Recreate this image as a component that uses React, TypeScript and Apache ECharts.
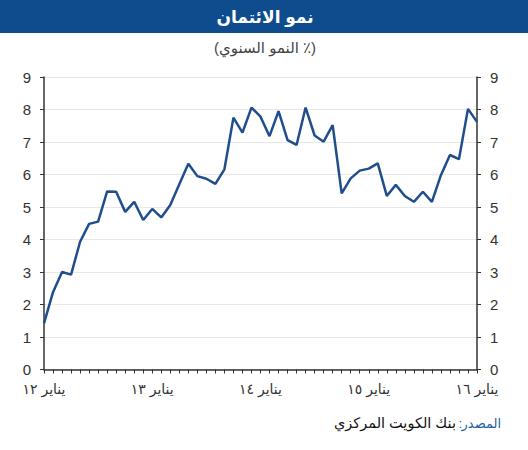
import React, { useEffect, useRef } from "react";
import * as echarts from "echarts";

const yearLabels = ["يناير ١٢", "يناير ١٣", "يناير ١٤", "يناير ١٥", "يناير ١٦"];
const startYear = 2012;
const monthCount = 49;
const creditGrowth = [
  1.42, 2.38, 3.0, 2.92, 3.93, 4.48, 4.55, 5.48, 5.47, 4.85, 5.16, 4.6,
  4.94, 4.68, 5.06, 5.7, 6.33, 5.95, 5.87, 5.71, 6.16, 7.75, 7.29, 8.06,
  7.78, 7.18, 7.95, 7.06, 6.91, 8.06, 7.2, 7.01, 7.52, 5.42, 5.88, 6.12,
  6.18, 6.34, 5.34, 5.68, 5.34, 5.16, 5.47, 5.16, 5.98, 6.6, 6.47, 8.02,
  7.62,
];
const titleText = "نمو الائتمان";
const subtitleText = "(النمو السنوي ٪)";
const sourceLabel = "المصدر";
const sourceText = "بنك الكويت المركزي";

const FONT = "Arial, 'Liberation Sans', 'DejaVu Sans', sans-serif";

export default function App() {
  const ref = useRef<HTMLDivElement>(null);
  useEffect(() => {
    if (!ref.current) return;
    const chart = echarts.init(ref.current, undefined, { renderer: "svg" });
    const categories: string[] = [];
    for (let i = 0; i < monthCount; i++) {
      const y = startYear + Math.floor(i / 12);
      const m = (i % 12) + 1;
      categories.push(`${y}-${m < 10 ? "0" + m : m}`);
    }
    chart.setOption({
      animation: false,
      backgroundColor: "#ffffff",
      textStyle: { fontFamily: FONT },
      grid: { left: 44, right: 51, top: 77, bottom: 80.5, containLabel: false },
      graphic: [
        {
          type: "rect",
          shape: { x: 0, y: 0, width: 528, height: 33 },
          style: { fill: "#0e4c8e" },
          silent: true,
        },
        {
          type: "text",
          x: 265,
          y: 17,
          style: {
            text: titleText,
            fill: "#ffffff",
            font: `bold 17px ${FONT}`,
            textAlign: "center",
            textVerticalAlign: "middle",
          },
        },
        {
          type: "text",
          x: 265,
          y: 47,
          style: {
            text: subtitleText,
            fill: "#444444",
            font: `15px ${FONT}`,
            textAlign: "center",
            textVerticalAlign: "middle",
          },
        },
        {
          type: "text",
          x: 501,
          y: 423,
          style: {
            text: sourceLabel,
            fill: "#1f5fa8",
            font: `13px ${FONT}`,
            textAlign: "right",
            textVerticalAlign: "middle",
          },
        },
        {
          type: "text",
          x: 462,
          y: 423,
          style: {
            text: ":",
            fill: "#1f5fa8",
            font: `13px ${FONT}`,
            textAlign: "right",
            textVerticalAlign: "middle",
          },
        },
        {
          type: "text",
          x: 456,
          y: 423,
          style: {
            text: sourceText,
            fill: "#111111",
            font: `14.5px ${FONT}`,
            textAlign: "right",
            textVerticalAlign: "middle",
          },
        },
      ],
      xAxis: {
        type: "category",
        data: categories,
        boundaryGap: false,
        axisLine: { lineStyle: { color: "#333333", width: 1.5 } },
        axisTick: { interval: 0, length: 4, lineStyle: { color: "#333333" } },
        axisLabel: {
          interval: 11,
          margin: 12,
          color: "#333333",
          fontSize: 14,
          fontFamily: FONT,
          formatter: (_v: string, i: number) =>
            i % 12 === 0 ? yearLabels[i / 12] ?? "" : "",
        },
        splitLine: { show: false },
      },
      yAxis: [
        {
          type: "value",
          position: "left",
          min: 0,
          max: 9,
          interval: 1,
          axisLine: { show: true, lineStyle: { color: "#333333", width: 1.5 } },
          axisTick: { show: true, length: 4, lineStyle: { color: "#333333" } },
          axisLabel: { color: "#333333", fontSize: 15, margin: 13, fontFamily: FONT },
          splitLine: { show: true, lineStyle: { color: "#e8e8e8", width: 1 } },
        },
        {
          type: "value",
          position: "right",
          min: 0,
          max: 9,
          interval: 1,
          axisLine: { show: true, lineStyle: { color: "#333333", width: 1.5 } },
          axisTick: { show: true, length: 4, lineStyle: { color: "#333333" } },
          axisLabel: { color: "#333333", fontSize: 15, margin: 13, fontFamily: FONT },
          splitLine: { show: false },
        },
      ],
      series: [
        {
          type: "line",
          data: creditGrowth,
          yAxisIndex: 0,
          showSymbol: false,
          symbol: "none",
          lineStyle: { color: "#1f4e8d", width: 2.5 },
          itemStyle: { color: "#1f4e8d" },
        },
      ],
    });
    return () => chart.dispose();
  }, []);
  return (
    <div
      ref={ref}
      style={{ position: "fixed", left: 0, top: 0, width: 528, height: 450 }}
    />
  );
}
